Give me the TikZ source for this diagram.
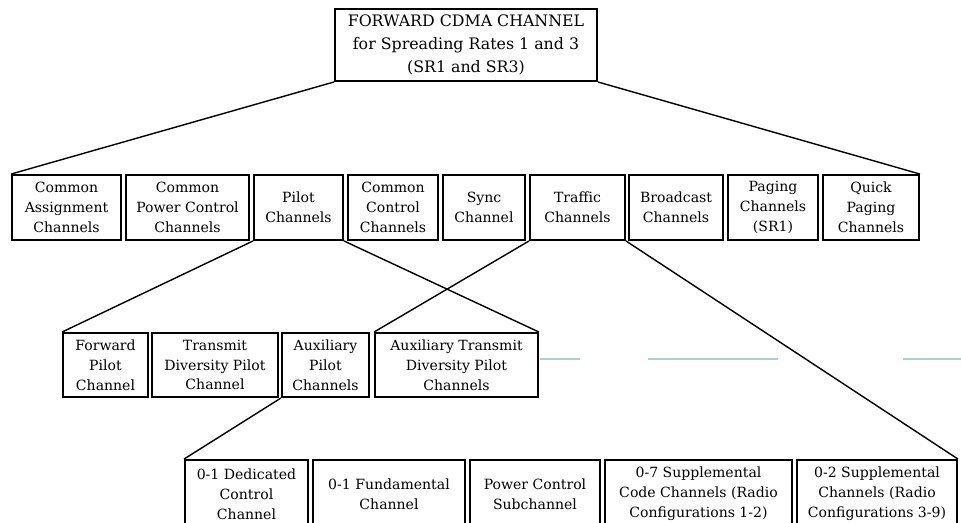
\documentclass[tikz,border=0pt]{standalone}
\usepackage{fontspec}
\setmainfont{DejaVu Serif}
\usetikzlibrary{positioning}

\tikzset{
  chbox/.style={draw, line width=1.1pt, align=center, inner sep=1pt,
    font=\fontsize{8}{11.3}\selectfont},
  branch/.style={line width=0.8pt},
  scanline/.style={line width=0.8pt, teal!35}
}

\begin{document}
\begin{tikzpicture}[x=0.02cm, y=-0.02cm]
  \useasboundingbox (0,0) rectangle (961,522);
  \clip (0,0) rectangle (961,522);
  % top
  \node[chbox, minimum width=5.24cm, minimum height=1.44cm, font=\fontsize{9}{13.2}\selectfont] (fwd) at (466,45)
    {FORWARD CDMA CHANNEL\\for Spreading Rates 1 and 3\\(SR1 and SR3)};
  % second row
  \node[chbox, minimum width=2.18cm, minimum height=1.30cm] (assign) at (66.5,207.5) {Common\\Assignment\\Channels};
  \node[chbox, minimum width=2.46cm, minimum height=1.30cm] (cpcch) at (187.5,207.5) {Common\\Power Control\\Channels};
  \node[chbox, minimum width=1.78cm, minimum height=1.30cm] (pilot) at (298.5,207.5) {Pilot\\Channels};
  \node[chbox, minimum width=1.80cm, minimum height=1.30cm] (ccch) at (393,207.5) {Common\\Control\\Channels};
  \node[chbox, minimum width=1.64cm, minimum height=1.30cm] (sync) at (484,207.5) {Sync\\Channel};
  \node[chbox, minimum width=1.90cm, minimum height=1.30cm] (traffic) at (577.5,207.5) {Traffic\\Channels};
  \node[chbox, minimum width=1.88cm, minimum height=1.30cm] (bcch) at (676,207.5) {Broadcast\\Channels};
  \node[chbox, minimum width=1.80cm, minimum height=1.30cm] (paging) at (773,207.5) {Paging\\Channels\\(SR1)};
  \node[chbox, minimum width=1.92cm, minimum height=1.30cm] (qpch) at (871,207.5) {Quick\\Paging\\Channels};
  % pilot row
  \node[chbox, minimum width=1.70cm, minimum height=1.28cm] (fpilot) at (105.5,365) {Forward\\Pilot\\Channel};
  \node[chbox, minimum width=2.52cm, minimum height=1.28cm] (tdpilot) at (215,365) {Transmit\\Diversity Pilot\\Channel};
  \node[chbox, minimum width=1.74cm, minimum height=1.28cm] (auxpilot) at (325.5,365) {Auxiliary\\Pilot\\Channels};
  \node[chbox, minimum width=3.26cm, minimum height=1.28cm] (auxtd) at (456.5,365) {Auxiliary Transmit\\Diversity Pilot\\Channels};
  % traffic row
  \node[chbox, minimum width=2.46cm, minimum height=1.36cm] (dcch) at (246.5,494) {0-1 Dedicated\\Control\\Channel};
  \node[chbox, minimum width=3.04cm, minimum height=1.36cm] (fch) at (389,494) {0-1 Fundamental\\Channel};
  \node[chbox, minimum width=2.60cm, minimum height=1.36cm] (pcsub) at (535,494) {Power Control\\Subchannel};
  \node[chbox, minimum width=3.74cm, minimum height=1.36cm] (scch) at (698.5,494) {0-7 Supplemental\\Code Channels (Radio\\Configurations 1-2)};
  \node[chbox, minimum width=3.20cm, minimum height=1.36cm] (sch) at (877,494) {0-2 Supplemental\\Channels (Radio\\Configurations 3-9)};
  % branches
  \draw[branch] (fwd.south west) -- (assign.north west);
  \draw[branch] (fwd.south east) -- (qpch.north east);
  \draw[branch] (pilot.south west) -- (fpilot.north west);
  \draw[branch] (pilot.south east) -- (auxtd.north east);
  \draw[branch] (traffic.south west) -- (auxtd.north west);
  \draw[branch] (traffic.south east) -- (sch.north east);
  \draw[branch] (auxpilot.south west) -- (dcch.north west);
  % faint marks of the scan
  \draw[scanline] (540,359) -- (580,359);
  \draw[scanline] (648,359) -- (778,359);
  \draw[scanline] (903,359) -- (961,359);
\end{tikzpicture}
\end{document}
